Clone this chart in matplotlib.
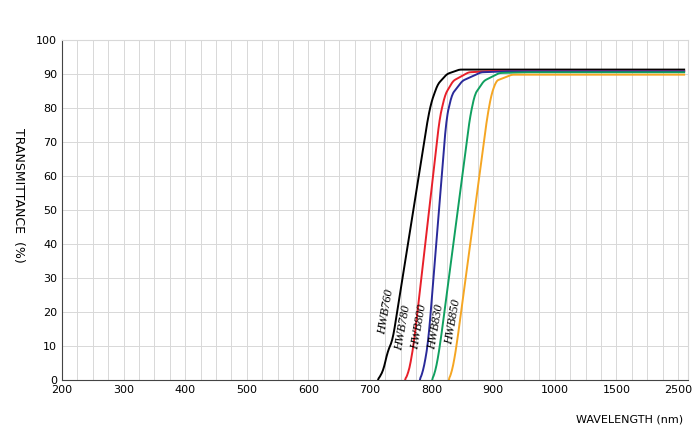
import matplotlib.pyplot as plt
import numpy as np

# tick wavelengths (axis is not linear past 900 nm)
tick_nm = [200, 300, 400, 500, 600, 700, 800, 900, 1000, 1500, 2500]

names = ['HWB760', 'HWB780', 'HWB800', 'HWB830', 'HWB850']
colors = ['#000000', '#e8202a', '#2a2a9a', '#10a060', '#f5a623']

hwb760_nm = [713, 722, 728, 737, 794, 800, 810, 825, 845, 900, 2600]
hwb760_t = [0, 3, 8, 12, 77, 82, 87, 90, 91.3, 91.3, 91.3]
hwb780_nm = [757, 762, 766, 772, 813, 822, 835, 860, 900, 2600]
hwb780_t = [0, 2, 5, 12, 77, 84, 88, 90.5, 90.9, 90.9]
hwb800_nm = [781, 785, 789, 795, 824, 833, 850, 880, 920, 2600]
hwb800_t = [0, 2, 5, 12, 77, 84, 88, 90.5, 90.8, 90.8]
hwb830_nm = [801, 805, 809, 815, 862, 870, 885, 910, 950, 2600]
hwb830_t = [0, 2, 5, 12, 77, 84, 88, 90.3, 90.5, 90.5]
hwb850_nm = [828, 832, 836, 842, 890, 897, 905, 930, 970, 2600]
hwb850_t = [0, 2, 5, 12, 77, 84, 88, 89.8, 89.8, 89.8]

series = [(hwb760_nm, hwb760_t), (hwb780_nm, hwb780_t), (hwb800_nm, hwb800_t),
          (hwb830_nm, hwb830_t), (hwb850_nm, hwb850_t)]

idx = np.arange(len(tick_nm))


def to_x(nm):
    nm = np.asarray(nm, dtype=float)
    x = np.interp(nm, tick_nm, idx)
    return np.where(nm > 2500, idx[-1] + (nm - 2500) / 1000, x)


fig = plt.figure(figsize=(6.94, 4.33), dpi=100)
ax = fig.add_axes([62 / 694, 53 / 433, 626 / 694, 340 / 433])

for (nm, t), c in zip(series, colors):
    ns = np.arange(nm[0], nm[-1] + 1, 1.0)
    # soften the knee points a little
    ts = np.interp(ns, nm, t)
    k = np.ones(7) / 7
    ts = np.convolve(np.pad(ts, 3, mode='edge'), k, mode='valid')
    ts[0] = 0
    ax.plot(to_x(ns), ts, color=c, lw=1.4)

ax.set_xlim(0, 626 / 61.6)
ax.set_ylim(0, 100)
ax.set_xticks(idx)
ax.set_xticklabels([str(v) for v in tick_nm], fontsize=8)
ax.set_xticks(np.arange(0, 10.2, 0.25), minor=True)
ax.set_yticks(np.arange(0, 101, 10))
ax.tick_params(labelsize=8, length=0, which='both')
ax.grid(True, which='both', axis='x', color='#d8d8d8', lw=0.7)
ax.grid(True, which='major', axis='y', color='#d8d8d8', lw=0.7)
for s in ['top', 'right']:
    ax.spines[s].set_color('#d8d8d8')
ax.spines['left'].set_color('#444444')
ax.spines['bottom'].set_color('#444444')

# curve labels
lab_pos = [(386, 312), (403, 328), (419, 327), (436, 327), (453, 322)]
for n, (px, py) in zip(names, lab_pos):
    fig.text(px / 694, 1 - py / 433, n, rotation=80, ha='center', va='center',
             fontsize=9, family='Liberation Serif', style='italic')

fig.text(18 / 694, 1 - 195 / 433, 'TRANSMITTANCE  (%)', rotation=-90,
         ha='center', va='center', fontsize=9)
fig.text(630 / 694, 1 - 420 / 433, 'WAVELENGTH (nm)', ha='center', va='center', fontsize=8)

fig.savefig('out.png', dpi=100)
